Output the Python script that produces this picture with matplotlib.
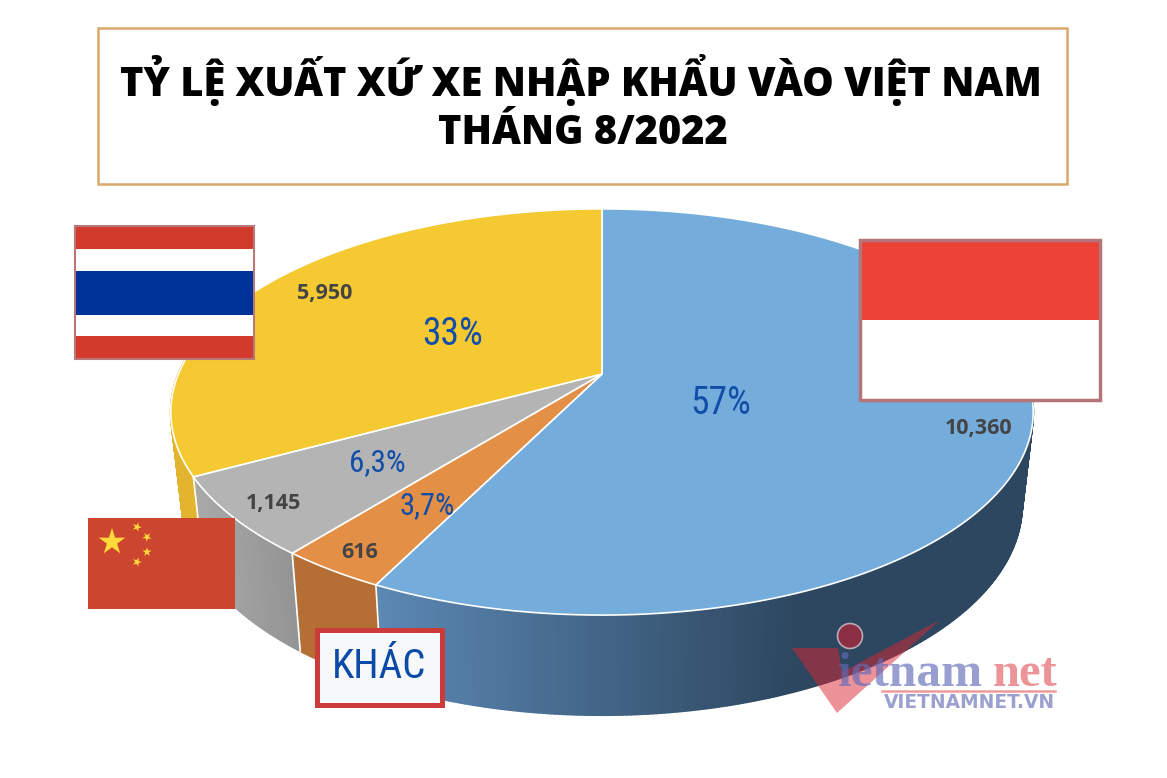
import numpy as np
import matplotlib
matplotlib.use("Agg")
import matplotlib.pyplot as plt
from matplotlib.patches import Polygon, Rectangle, Circle
from matplotlib.collections import PolyCollection
from matplotlib.colors import to_rgb

# pie data, clockwise from the top
origins = ["Indonesia", "Khác", "Trung Quốc", "Thái Lan"]
units = [10360, 616, 1145, 5950]
unit_labels = ["10,360", "616", "1,145", "5,950"]
pct_labels = ["57%", "3,7%", "6,3%", "33%"]
top_colors = ["#74acdc", "#e38f45", "#b4b4b4", "#f5c932"]
side_near = ["#5c88b4", "#b56f35", "#929292", "#e3b52e"]
side_far = ["#2d4760", "#c47a3d", "#a8a8a8", "#e3b52e"]
title_lines = ["TỶ LỆ XUẤT XỨ XE NHẬP KHẨU VÀO VIỆT NAM", "THÁNG 8/2022"]

BLUE_TXT = "#124ea8"
SANS = ["Open Sans", "DejaVu Sans"]
NARROW = ["Roboto Condensed", "DejaVu Sans"]

fig = plt.figure(figsize=(11.67, 7.78), dpi=100, facecolor="white")
ax = fig.add_axes([0, 0, 1, 1])
ax.set_xlim(0, 1167)
ax.set_ylim(778, 0)
ax.axis("off")


# tilted disc: circle seen in perspective
def project(theta):
    u, v = np.sin(theta), np.cos(theta)
    d = 1 + 0.187 * v
    return 602 + 423.6 * u / d, 374 - 196 * v / d


def lower(x, y):
    return 602 + (x - 602) * 0.974, y + 100 - 0.036 * (615 - y)


edges = np.cumsum([0] + units) / sum(units) * 2 * np.pi

# side wall first
for i in range(len(units)):
    th = np.linspace(edges[i], edges[i + 1], max(int((edges[i + 1] - edges[i]) * 120), 2))
    x, y = project(th)
    xb, yb = lower(x, y)
    polys, cols = [], []
    near, far = np.array(to_rgb(side_near[i])), np.array(to_rgb(side_far[i]))
    for k in range(len(th) - 1):
        if np.cos(th[k]) > 0.3:
            continue
        polys.append([(x[k], y[k]), (x[k + 1], y[k + 1]), (xb[k + 1], yb[k + 1]), (xb[k], yb[k])])
        if i == 0:
            t = np.clip((x[k] - 378) / 420, 0, 1)
        else:
            t = np.clip((300 - x[k]) / 100, 0, 1)
        cols.append(near + (far - near) * t)
    ax.add_collection(PolyCollection(polys, facecolors=cols, edgecolors=cols, linewidths=1.4, zorder=1))

# white seams between the side walls
for e in edges[1:4]:
    x0, y0 = project(e)
    x1, y1 = lower(x0, y0)
    ax.plot([x0, x1], [y0, y1], color="white", lw=1.2, zorder=2)

# top face
for i in range(len(units)):
    th = np.linspace(edges[i], edges[i + 1], 200)
    x, y = project(th)
    pts = np.column_stack([np.r_[602, x], np.r_[374, y]])
    ax.add_patch(Polygon(pts, closed=True, facecolor=top_colors[i], edgecolor="white", lw=1.2, zorder=3))

# labels on the slices
unit_pos = [(979, 428), (360, 552), (273, 503), (325, 293)]
pct_pos = [(721, 403), (427, 506), (377, 463), (453, 334)]
pct_size = [27, 22, 22.5, 27]
for i in range(len(units)):
    ax.text(*unit_pos[i], unit_labels[i], family=SANS, fontsize=15.5, fontweight="bold",
            color="#444444", ha="center", va="center", zorder=4)
    ax.text(*pct_pos[i], pct_labels[i], family=NARROW, fontsize=pct_size[i],
            color=BLUE_TXT, ha="center", va="center", zorder=4)

# title box
ax.add_patch(Rectangle((98, 28), 969, 156, facecolor="white", edgecolor="#d9a86c", lw=1.8, zorder=5))
ax.text(581, 80, title_lines[0], family=SANS, fontsize=28.6, fontweight=800, color="black",
        ha="center", va="center", zorder=6)
ax.text(583, 133, title_lines[1], family=SANS, fontsize=28.6, fontweight=800, color="black",
        ha="center", va="center", zorder=6)

# Thai flag
stripes = [(226, 23, "#d23a2c"), (249, 22, "white"), (271, 44, "#003399"), (315, 21, "white"), (336, 23, "#d23a2c")]
for y0, h, c in stripes:
    ax.add_patch(Rectangle((75, y0), 179, h, facecolor=c, edgecolor="none", zorder=5))
ax.add_patch(Rectangle((75, 226), 179, 133, facecolor="none", edgecolor="#b87878", lw=1.5, zorder=6))

# Indonesian flag
ax.add_patch(Rectangle((860, 240), 240, 80, facecolor="#ea4335", edgecolor="none", zorder=5))
ax.add_patch(Rectangle((860, 320), 240, 80, facecolor="white", edgecolor="none", zorder=5))
ax.add_patch(Rectangle((860, 240), 240, 160, facecolor="none", edgecolor="#b5737a", lw=2.5, zorder=6))


# Chinese flag
def star(cx, cy, r, rot=0):
    a = np.deg2rad(np.arange(10) * 36 + rot)
    rr = np.where(np.arange(10) % 2 == 0, r, r * 0.382)
    return np.column_stack([cx + rr * np.sin(a), cy - rr * np.cos(a)])


ax.add_patch(Rectangle((88, 518), 147, 91, facecolor="#cc452e", edgecolor="none", zorder=5))
ax.add_patch(Polygon(star(112, 542, 14), facecolor="#ffd83a", edgecolor="none", zorder=6))
for cx, cy, rot in [(137, 527, 20), (147, 537, 40), (147, 552, 0), (137, 562, 20)]:
    ax.add_patch(Polygon(star(cx, cy, 4.8, rot), facecolor="#ffd83a", edgecolor="none", zorder=6))

# "other" tag
ax.add_patch(Rectangle((317, 630), 125, 75, facecolor="#f6f8f9", edgecolor="#cc3b3b", lw=3.6, zorder=5))
ax.text(379, 667, "KHÁC", family=NARROW, fontsize=29.5, color="#0b4aa8",
        ha="center", va="center", zorder=6)

# watermark
red = (0.86, 0.15, 0.2)
ax.add_patch(Polygon([(792, 648), (838, 648), (842, 672), (940, 620), (837, 713)], facecolor=red + (0.5,),
                     edgecolor="none", zorder=7))
ax.add_patch(Circle((850, 636), 12.5, facecolor="#8d2f44", edgecolor="#b9a9b5", lw=1.2, zorder=7))
ax.text(838, 686, "ietnam", family=["Liberation Serif"], fontsize=35.5, fontweight="bold",
        color=(0.38, 0.42, 0.72, 0.65), ha="left", va="baseline", zorder=8)
ax.text(993, 686, "net", family=["Liberation Serif"], fontsize=35, fontweight="bold",
        color=(0.88, 0.3, 0.33, 0.6), ha="left", va="baseline", zorder=8)
ax.plot([882, 1055], [691, 691], color="#ee9a9a", lw=1.8, zorder=8)
ax.text(1055, 708, "VIETNAMNET.VN", family=["DejaVu Sans"], fontsize=13.4, fontweight="bold",
        color="#9aa1cf", ha="right", va="baseline", zorder=8)

fig.savefig("out.png", dpi=100)
